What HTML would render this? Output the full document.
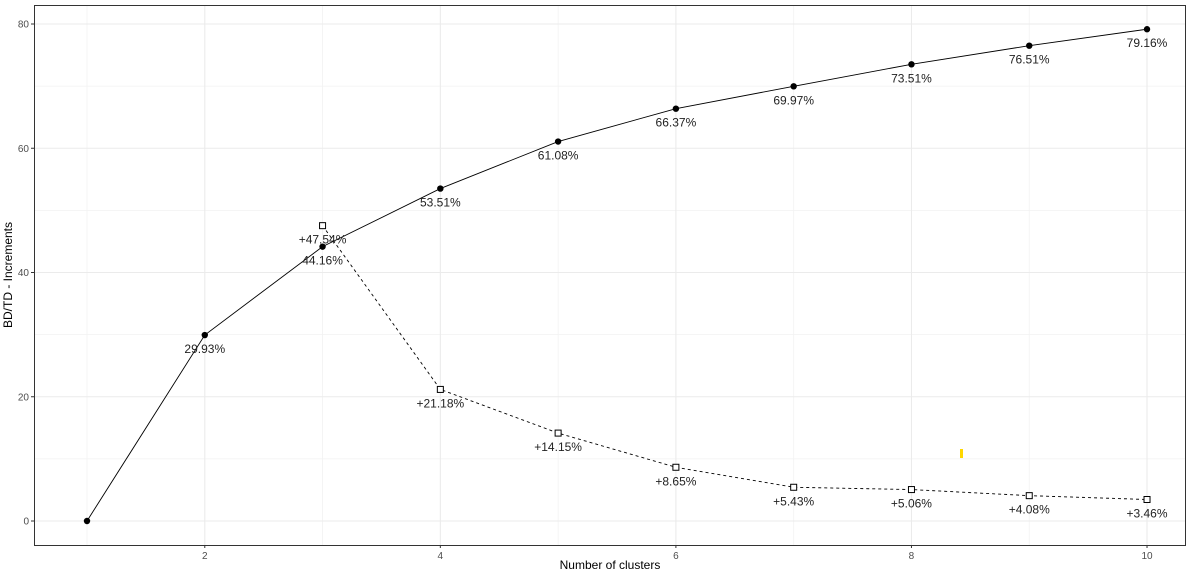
<!DOCTYPE html>
<html><head><meta charset="utf-8"><style>
html,body{margin:0;padding:0;background:#fff;}
svg{display:block;font-family:"Liberation Sans",Arial,sans-serif;}
</style></head><body>
<svg id="chart" width="1200" height="574" viewBox="0 0 1200 574">
<rect x="0" y="0" width="1200" height="574" fill="#fff"/>
<g id="grid"></g>
<g id="series"></g>
<rect x="34.5" y="5.5" width="1151" height="540" fill="none" stroke="#333" stroke-width="1"/>
<g id="axes"></g>
<text x="610" y="569" text-anchor="middle" font-size="12" fill="#000">Number of clusters</text>
<text transform="translate(12,275) rotate(-90)" text-anchor="middle" font-size="12" fill="#000">BD/TD - Increments</text>
<rect x="960" y="449" width="3" height="9" fill="#ffd700"/>
</svg>
<script>
const clusters=[1,2,3,4,5,6,7,8,9,10];
const bdtd=[0,29.93,44.16,53.51,61.08,66.37,69.97,73.51,76.51,79.16];
const incClusters=[3,4,5,6,7,8,9,10];
const increments=[47.54,21.18,14.15,8.65,5.43,5.06,4.08,3.46];
const bdtdLabels=["","29.93%","44.16%","53.51%","61.08%","66.37%","69.97%","73.51%","76.51%","79.16%"];
const incLabels=["+47.54%","+21.18%","+14.15%","+8.65%","+5.43%","+5.06%","+4.08%","+3.46%"];
const xTicks=[2,4,6,8,10];
const yTicks=[0,20,40,60,80];
const xMinor=[1,3,5,7,9];
const yMinor=[10,30,50,70];

const NS="http://www.w3.org/2000/svg";
const X=v=>87+(v-1)*117.78;
const Y=v=>521-v*6.2125;
function mk(tag,attrs,parent){const e=document.createElementNS(NS,tag);for(const k in attrs)e.setAttribute(k,attrs[k]);parent.appendChild(e);return e;}
const grid=document.getElementById('grid'),ser=document.getElementById('series'),axes=document.getElementById('axes');
xMinor.forEach(v=>{const l=mk('line',{x1:X(v),x2:X(v),y1:5,y2:545,stroke:'#f2f2f2','stroke-width':0.8},grid);

});
yMinor.forEach(v=>{const l=mk('line',{x1:35,x2:1185,y1:Y(v),y2:Y(v),stroke:'#f2f2f2','stroke-width':0.8},grid);

});
xTicks.forEach(v=>{const l=mk('line',{x1:X(v),x2:X(v),y1:5,y2:545,stroke:'#ebebeb','stroke-width':1.1},grid);


const t=mk('line',{x1:X(v),x2:X(v),y1:545,y2:548,stroke:'#333'},axes);


const tx=mk('text',{x:X(v),y:559,'text-anchor':'middle','font-size':10,fill:'#4d4d4d'},axes);tx.textContent=v;

});
yTicks.forEach(v=>{const l=mk('line',{x1:35,x2:1185,y1:Y(v),y2:Y(v),stroke:'#ebebeb','stroke-width':1.1},grid);


const t=mk('line',{x1:31,x2:34.5,y1:Y(v),y2:Y(v),stroke:'#333'},axes);


const tx=mk('text',{x:29,y:Y(v)+3.5,'text-anchor':'end','font-size':10,fill:'#4d4d4d'},axes);tx.textContent=v;

});
// lines
const p1=mk('polyline',{points:clusters.map((c,i)=>X(c)+','+Y(bdtd[i])).join(' '),fill:'none',stroke:'#000','stroke-width':0.9},ser);


const p2=mk('polyline',{points:incClusters.map((c,i)=>X(c)+','+Y(increments[i])).join(' '),fill:'none',stroke:'#000','stroke-width':0.9,'stroke-dasharray':'3,3'},ser);


clusters.forEach((c,i)=>{const p=mk('circle',{cx:X(c),cy:Y(bdtd[i]),r:3.2,fill:'#000'},ser);


if(bdtdLabels[i]){const t=mk('text',{x:X(c),y:Y(bdtd[i])+18,'text-anchor':'middle','font-size':12,fill:'#222'},ser);t.textContent=bdtdLabels[i];

}});
incClusters.forEach((c,i)=>{const r=mk('rect',{x:X(c)-3,y:Y(increments[i])-3,width:6,height:6,fill:'#fff',stroke:'#000','stroke-width':1},ser);


const t=mk('text',{x:X(c),y:Y(increments[i])+18,'text-anchor':'middle','font-size':12,fill:'#222'},ser);t.textContent=incLabels[i];

});
</script>
</body></html>
